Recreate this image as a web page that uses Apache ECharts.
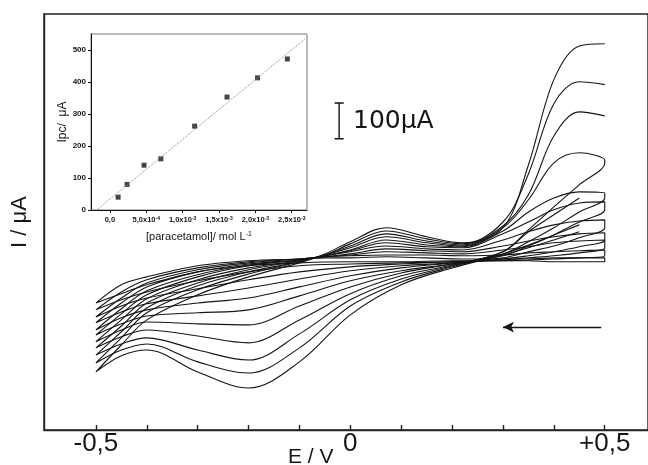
<!DOCTYPE html>
<html>
<head>
<meta charset="utf-8">
<script src="https://cdn.jsdelivr.net/npm/echarts@6.0.0/dist/echarts.min.js"></script>
<style>
  html, body { margin: 0; padding: 0; background: #fff; }
  #chart { width: 648px; height: 465px; }
</style>
</head>
<body>
<div id="chart"></div>
<script>
// potentials (V) of the forward (anodic) and reverse (cathodic) sweeps
const E_FWD = [-0.5, -0.45, -0.4, -0.3, -0.2, -0.1, -0.05, 0, 0.07, 0.15, 0.22, 0.3, 0.35, 0.4, 0.45, 0.5];
const E_REV = [0.5, 0.45, 0.4, 0.35, 0.3, 0.2, 0.1, 0, -0.1, -0.2, -0.3, -0.4, -0.45, -0.5];

// current (uA), blank first
const fwdCurrents = [
  [-126, -75, -53, -22, -8, -3, 0, 0, 3, 0, -3, -3, -3, 0, 0, 0],
  [-145, -95, -61, -28, -11, -3, 3, 6, 8, 8, 6, 8, 14, 17, 20, 22],
  [-165, -112, -70, -33, -14, -3, 3, 8, 17, 14, 11, 22, 31, 42, 47, 50],
  [-181, -126, -81, -39, -17, -6, 3, 11, 25, 20, 17, 33, 47, 59, 67, 70],
  [-201, -142, -92, -47, -20, -6, 6, 17, 33, 25, 22, 50, 73, 92, 103, 106],
  [-215, -156, -103, -53, -22, -6, 6, 20, 42, 31, 28, 67, 100, 134, 153, 156],
  [-234, -173, -114, -61, -28, -8, 6, 22, 50, 36, 31, 75, 128, 167, 184, 181],
  [-251, -190, -126, -70, -33, -8, 8, 28, 59, 42, 33, 84, 162, 265, 293, 273],
  [-271, -206, -140, -78, -39, -11, 8, 33, 67, 47, 36, 89, 176, 340, 407, 396],
  [-293, -223, -153, -89, -45, -11, 8, 39, 75, 53, 39, 100, 234, 430, 491, 483],
  [-318, -243, -173, -103, -53, -14, 11, 45, 84, 59, 42, 84, 259, 497, 591, 597]
];
// null = pen lifted at the switching potential
const revCurrents = [
  [-11, -11, -11, -8, -8, -8, -11, -11, -14, -22, -39, -75, -100, -126],
  [6, 0, -3, -6, -8, -11, -14, -17, -22, -39, -64, -95, -117, -145],
  [28, 14, 6, 0, -6, -11, -17, -25, -39, -61, -86, -112, -134, -165],
  [50, 31, 17, 6, -3, -14, -22, -36, -59, -84, -106, -128, -151, -181],
  [84, 56, 33, 17, 0, -14, -28, -50, -81, -112, -126, -145, -167, -201],
  [134, 100, 64, 33, 6, -17, -36, -64, -106, -145, -153, -162, -184, -215],
  [167, 128, 84, 45, 11, -17, -42, -81, -134, -187, -184, -179, -201, -234],
  [265, 204, 142, 78, 17, -20, -50, -100, -173, -237, -218, -201, -220, -251],
  [null, 167, 120, 73, 17, -22, -59, -117, -212, -285, -257, -223, -240, -271],
  [null, 92, 64, 36, 11, -25, -67, -134, -251, -321, -290, -240, -257, -293],
  [null, 73, 50, 28, 8, -28, -75, -159, -290, -363, -318, -257, -273, -318]
];

const E_TICKS = [-0.5, -0.4, -0.3, -0.2, -0.1, 0, 0.1, 0.2, 0.3, 0.4, 0.5];
const E_TICK_AT = [-0.5, 0, 0.5];
const E_TICK_TEXT = ['-0,5', '0', '+0,5'];

// 100 uA scale bar and scan-direction arrow
const SCALE_BAR_E = -0.022;
const SCALE_BAR_HALF = 0.009;
const SCALE_BAR_I = [332, 432];
const ARROW_E = [0.493, 0.3];
const ARROW_I = -193;

// inset: calibration plot
const conc = [1.13e-4, 2.36e-4, 4.69e-4, 7.0e-4, 1.165e-3, 1.61e-3, 2.03e-3, 2.44e-3];
const ipc = [40, 80, 140, 160, 262, 353, 413, 472];
const fitConc = [-1.82e-4, 2.69e-3];
const fitIpc = [0, 536];
const INSET_X_TICKS = [0, 5e-4, 1e-3, 1.5e-3, 2e-3, 2.5e-3];
const INSET_X_TEXT = ['0,0', '5,0x10{s|-4}', '1,0x10{s|-3}', '1,5x10{s|-3}', '2,0x10{s|-3}', '2,5x10{s|-3}'];
const INSET_Y_TICKS = [0, 100, 200, 300, 400, 500];

const chart = echarts.init(document.getElementById('chart'), null, { renderer: 'canvas' });

const INK = '#151515';
const FONT = 'Liberation Sans';

const curveSeries = fwdCurrents.map((fwd, k) => {
  const data = E_FWD.map((e, i) => [e, fwd[i]])
    .concat(E_REV.map((e, i) => [e, revCurrents[k][i] === null ? '-' : revCurrents[k][i]]));
  return {
    type: 'line',
    xAxisIndex: 0,
    yAxisIndex: 0,
    data: data,
    smooth: 0.35,
    smoothConstraint: false,
    symbol: 'none',
    connectNulls: false,
    silent: true,
    lineStyle: { color: INK, width: 1.1 }
  };
});

const b = SCALE_BAR_I;
const scaleBar = {
  type: 'line',
  xAxisIndex: 0,
  yAxisIndex: 0,
  symbol: 'none',
  silent: true,
  lineStyle: { color: INK, width: 1.4 },
  data: [
    [SCALE_BAR_E - SCALE_BAR_HALF, b[1]], [SCALE_BAR_E + SCALE_BAR_HALF, b[1]],
    [SCALE_BAR_E, b[1]], [SCALE_BAR_E, b[0]],
    [SCALE_BAR_E - SCALE_BAR_HALF, b[0]], [SCALE_BAR_E + SCALE_BAR_HALF, b[0]]
  ],
  markLine: {
    silent: true,
    symbol: ['none', 'arrow'],
    symbolSize: [8, 11],
    label: { show: false },
    lineStyle: { color: INK, width: 1.3, type: 'solid' },
    data: [[{ coord: [ARROW_E[0], ARROW_I] }, { coord: [ARROW_E[1], ARROW_I] }]]
  }
};

chart.setOption({
  animation: false,
  backgroundColor: '#fff',
  grid: [
    { left: 44, top: 14, right: 0, height: 416, outerBoundsMode: 'none', show: true, borderColor: '#222', borderWidth: 1.4 },
    { left: 91, top: 34, width: 216, height: 176, outerBoundsMode: 'none', show: true, borderColor: '#777', borderWidth: 1 }
  ],
  xAxis: [
    {
      gridIndex: 0, type: 'value', min: -0.602, max: 0.585,
      axisLine: { onZero: false, lineStyle: { color: '#222', width: 1.4 } },
      axisTick: { customValues: E_TICKS, inside: true, length: 5, lineStyle: { color: '#222', width: 1.4 } },
      axisLabel: {
        customValues: E_TICK_AT, margin: 1, fontSize: 26, color: INK, fontFamily: FONT,
        formatter: v => {
          const i = E_TICK_AT.findIndex(t => Math.abs(t - v) < 1e-6);
          return i < 0 ? '' : E_TICK_TEXT[i];
        }
      },
      splitLine: { show: false }
    },
    {
      gridIndex: 1, type: 'value', min: -2.6e-4, max: 2.71e-3,
      axisLine: { onZero: false, lineStyle: { color: INK, width: 1 } },
      axisTick: { customValues: INSET_X_TICKS, length: 3, lineStyle: { color: INK } },
      axisLabel: {
        customValues: INSET_X_TICKS, margin: 6, fontSize: 7.5, fontWeight: 'bold',
        color: INK, fontFamily: FONT,
        formatter: v => {
          const i = INSET_X_TICKS.findIndex(t => Math.abs(t - v) < 1e-9);
          return i < 0 ? '' : INSET_X_TEXT[i];
        },
        rich: { s: { fontSize: 5, fontWeight: 'bold', fontFamily: FONT, verticalAlign: 'top', color: INK } }
      },
      splitLine: { show: false },
      name: '[paracetamol]/ mol L{s|-1}', nameLocation: 'middle', nameGap: 21,
      nameTextStyle: {
        fontSize: 11, color: INK, fontFamily: FONT,
        rich: { s: { fontSize: 7, fontFamily: FONT, verticalAlign: 'top', color: INK } }
      }
    }
  ],
  yAxis: [
    {
      gridIndex: 0, type: 'value', min: -480, max: 680,
      axisLine: { show: true, onZero: false, lineStyle: { color: '#222', width: 1.4 } },
      axisTick: { show: false },
      axisLabel: { show: false },
      splitLine: { show: false },
      name: 'I / μA', nameLocation: 'middle', nameGap: 13, nameRotate: 90,
      nameTextStyle: { fontSize: 22, color: INK, fontFamily: FONT }
    },
    {
      gridIndex: 1, type: 'value', min: 0, max: 550,
      axisLine: { show: true, onZero: false, lineStyle: { color: INK, width: 1 } },
      axisTick: { show: true, customValues: INSET_Y_TICKS, length: 3, lineStyle: { color: INK } },
      axisLabel: { customValues: INSET_Y_TICKS, margin: 5, fontSize: 8, fontWeight: 'bold', color: INK, fontFamily: FONT },
      splitLine: { show: false },
      name: 'Ipc/  μA', nameLocation: 'middle', nameGap: 20, nameRotate: 90,
      nameTextStyle: { fontSize: 12, color: INK, fontFamily: FONT }
    }
  ],
  graphic: [
    {
      type: 'text', left: 288, top: 447,
      style: { text: 'E / V', fontSize: 21, fill: INK, fontFamily: FONT }
    },
    {
      type: 'text', left: 353, top: 109,
      style: { text: '100μA', fontSize: 25, fill: INK, fontFamily: 'DejaVu Sans' }
    }
  ],
  series: curveSeries.concat([
    scaleBar,
    {
      type: 'line', xAxisIndex: 1, yAxisIndex: 1, symbol: 'none', silent: true,
      data: fitConc.map((c, i) => [c, fitIpc[i]]),
      lineStyle: { color: '#888', width: 1, type: 'dotted' }
    },
    {
      type: 'scatter', xAxisIndex: 1, yAxisIndex: 1, symbol: 'rect', symbolSize: 5, silent: true,
      data: conc.map((c, i) => [c, ipc[i]]),
      itemStyle: { color: INK }
    }
  ])
});
</script>
</body>
</html>
